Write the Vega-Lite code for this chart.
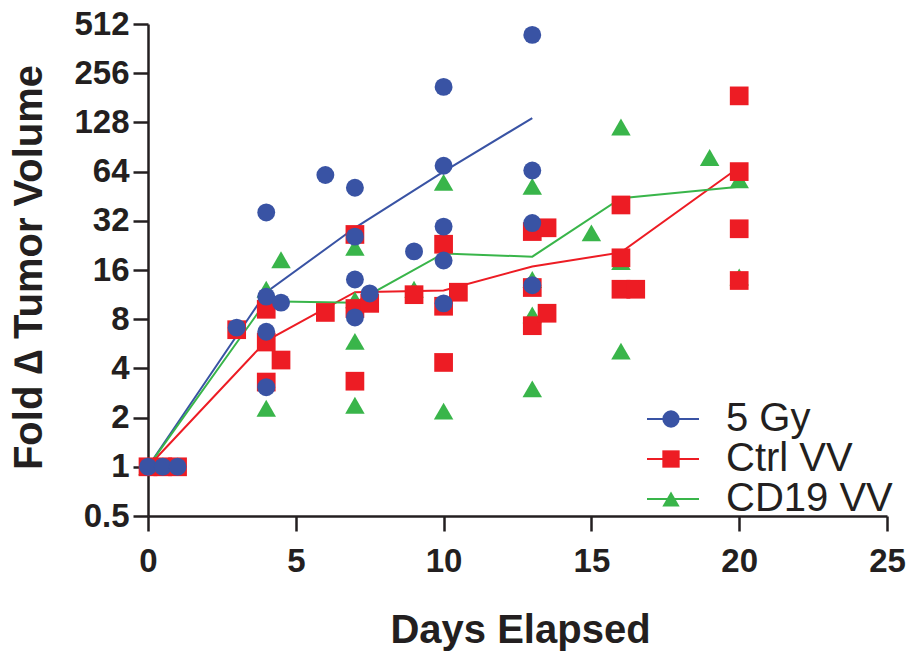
{
  "$schema": "https://vega.github.io/schema/vega-lite/v6.json",
  "width": 739,
  "height": 492,
  "autosize": {"type": "none"},
  "padding": {"left": 148, "top": 24, "right": 23, "bottom": 137},
  "background": "white",
  "config": {
    "view": {"stroke": null},
    "axis": {
      "labelFont": "Liberation Sans", "titleFont": "Liberation Sans",
      "labelFontWeight": "bold", "titleFontWeight": "bold",
      "labelColor": "#231F20", "titleColor": "#231F20",
      "domainColor": "#231F20", "tickColor": "#231F20",
      "domainWidth": 2.5, "tickWidth": 2.5, "tickSize": 15,
      "grid": false, "labelFontSize": 33, "titleFontSize": 40, "labelFlush": false
    }
  },
  "resolve": {"legend": {"color": "independent", "shape": "independent"}},
  "datasets": {
    "means": [
      {"group": "5 Gy", "day": 0, "fold": 1},
      {"group": "5 Gy", "day": 4, "fold": 11.7},
      {"group": "5 Gy", "day": 7, "fold": 29},
      {"group": "5 Gy", "day": 10, "fold": 64},
      {"group": "5 Gy", "day": 13, "fold": 136},
      {"group": "Ctrl VV", "day": 0, "fold": 1},
      {"group": "Ctrl VV", "day": 4, "fold": 5.9},
      {"group": "Ctrl VV", "day": 7, "fold": 11.7},
      {"group": "Ctrl VV", "day": 10, "fold": 12},
      {"group": "Ctrl VV", "day": 13, "fold": 16.8},
      {"group": "Ctrl VV", "day": 16, "fold": 20.5},
      {"group": "Ctrl VV", "day": 20, "fold": 68},
      {"group": "CD19 VV", "day": 0, "fold": 1},
      {"group": "CD19 VV", "day": 4, "fold": 10.3},
      {"group": "CD19 VV", "day": 7, "fold": 10.1},
      {"group": "CD19 VV", "day": 10, "fold": 20.2},
      {"group": "CD19 VV", "day": 13, "fold": 19.3},
      {"group": "CD19 VV", "day": 16, "fold": 44},
      {"group": "CD19 VV", "day": 20, "fold": 51.7}
    ],
    "points": [
      {"group": "CD19 VV", "day": 0, "fold": 1},
      {"group": "CD19 VV", "day": 4, "fold": 2.28},
      {"group": "CD19 VV", "day": 4, "fold": 12.2},
      {"group": "CD19 VV", "day": 4.5, "fold": 18.5},
      {"group": "CD19 VV", "day": 7, "fold": 22},
      {"group": "CD19 VV", "day": 7, "fold": 10.5},
      {"group": "CD19 VV", "day": 7, "fold": 5.85},
      {"group": "CD19 VV", "day": 7, "fold": 2.38},
      {"group": "CD19 VV", "day": 9, "fold": 12.2},
      {"group": "CD19 VV", "day": 10, "fold": 55},
      {"group": "CD19 VV", "day": 10, "fold": 2.19},
      {"group": "CD19 VV", "day": 13, "fold": 52},
      {"group": "CD19 VV", "day": 13, "fold": 14},
      {"group": "CD19 VV", "day": 13, "fold": 8.5},
      {"group": "CD19 VV", "day": 13, "fold": 3.0},
      {"group": "CD19 VV", "day": 15, "fold": 27},
      {"group": "CD19 VV", "day": 16, "fold": 120},
      {"group": "CD19 VV", "day": 16, "fold": 18},
      {"group": "CD19 VV", "day": 16, "fold": 5.1},
      {"group": "CD19 VV", "day": 19, "fold": 78},
      {"group": "CD19 VV", "day": 20, "fold": 57},
      {"group": "CD19 VV", "day": 20, "fold": 14.5},
      {"group": "Ctrl VV", "day": 0, "fold": 1},
      {"group": "Ctrl VV", "day": 0.5, "fold": 1},
      {"group": "Ctrl VV", "day": 1, "fold": 1},
      {"group": "Ctrl VV", "day": 3, "fold": 6.9},
      {"group": "Ctrl VV", "day": 4, "fold": 9.2},
      {"group": "Ctrl VV", "day": 4, "fold": 5.8},
      {"group": "Ctrl VV", "day": 4, "fold": 3.3},
      {"group": "Ctrl VV", "day": 4.5, "fold": 4.5},
      {"group": "Ctrl VV", "day": 6, "fold": 8.8},
      {"group": "Ctrl VV", "day": 7, "fold": 26.4},
      {"group": "Ctrl VV", "day": 7, "fold": 9.3},
      {"group": "Ctrl VV", "day": 7, "fold": 3.34},
      {"group": "Ctrl VV", "day": 7.5, "fold": 10},
      {"group": "Ctrl VV", "day": 9, "fold": 11.3},
      {"group": "Ctrl VV", "day": 10, "fold": 23},
      {"group": "Ctrl VV", "day": 10, "fold": 9.6},
      {"group": "Ctrl VV", "day": 10, "fold": 4.35},
      {"group": "Ctrl VV", "day": 10.5, "fold": 11.7},
      {"group": "Ctrl VV", "day": 13, "fold": 27.5},
      {"group": "Ctrl VV", "day": 13.5, "fold": 29},
      {"group": "Ctrl VV", "day": 13, "fold": 12.5},
      {"group": "Ctrl VV", "day": 13, "fold": 7.3},
      {"group": "Ctrl VV", "day": 13.5, "fold": 8.7},
      {"group": "Ctrl VV", "day": 16, "fold": 40},
      {"group": "Ctrl VV", "day": 16, "fold": 19},
      {"group": "Ctrl VV", "day": 16, "fold": 12.2},
      {"group": "Ctrl VV", "day": 16.5, "fold": 12.2},
      {"group": "Ctrl VV", "day": 20, "fold": 186},
      {"group": "Ctrl VV", "day": 20, "fold": 64},
      {"group": "Ctrl VV", "day": 20, "fold": 28.6},
      {"group": "Ctrl VV", "day": 20, "fold": 13.8},
      {"group": "5 Gy", "day": 0, "fold": 1},
      {"group": "5 Gy", "day": 0.5, "fold": 1},
      {"group": "5 Gy", "day": 1, "fold": 1},
      {"group": "5 Gy", "day": 3, "fold": 7.1},
      {"group": "5 Gy", "day": 4, "fold": 36},
      {"group": "5 Gy", "day": 4, "fold": 11},
      {"group": "5 Gy", "day": 4, "fold": 6.7},
      {"group": "5 Gy", "day": 4, "fold": 3.07},
      {"group": "5 Gy", "day": 4.5, "fold": 10.1},
      {"group": "5 Gy", "day": 6, "fold": 61},
      {"group": "5 Gy", "day": 7, "fold": 51},
      {"group": "5 Gy", "day": 7, "fold": 25.6},
      {"group": "5 Gy", "day": 7, "fold": 14},
      {"group": "5 Gy", "day": 7, "fold": 8.2},
      {"group": "5 Gy", "day": 7.5, "fold": 11.5},
      {"group": "5 Gy", "day": 9, "fold": 20.8},
      {"group": "5 Gy", "day": 10, "fold": 211},
      {"group": "5 Gy", "day": 10, "fold": 69.5},
      {"group": "5 Gy", "day": 10, "fold": 29.5},
      {"group": "5 Gy", "day": 10, "fold": 18.3},
      {"group": "5 Gy", "day": 10, "fold": 10},
      {"group": "5 Gy", "day": 13, "fold": 439},
      {"group": "5 Gy", "day": 13, "fold": 65},
      {"group": "5 Gy", "day": 13, "fold": 31},
      {"group": "5 Gy", "day": 13, "fold": 12.9}
    ]
  },
  "layer": [
    {
      "data": {"name": "means"},
      "mark": {"type": "line", "strokeWidth": 2},
      "encoding": {
        "x": {"field": "day", "type": "quantitative", "scale": {"domain": [0, 25], "nice": false},
              "axis": {"values": [0, 5, 10, 15, 20, 25], "labelPadding": 14, "title": "Days Elapsed", "titleBaseline": "alphabetic", "titleX": 372, "titleY": 126}},
        "y": {"field": "fold", "type": "quantitative", "scale": {"type": "log", "base": 2, "domain": [0.5, 512], "nice": false},
              "axis": {"values": [0.5, 1, 2, 4, 8, 16, 32, 64, 128, 256, 512], "format": "~g", "labelPadding": 4, "title": "Fold ∆ Tumor Volume", "titleBaseline": "alphabetic", "titleX": -107, "titleY": 243}},
        "color": {"field": "group", "type": "nominal",
                  "scale": {"domain": ["5 Gy", "Ctrl VV", "CD19 VV"], "range": ["#3953A4", "#ED1C24", "#39B54A"]},
                  "legend": {"title": null, "orient": "none", "legendX": 505, "legendY": 375, "padding": 0,
                             "labelFont": "Liberation Sans", "labelFontSize": 40, "labelExpr": "' '", "labelOffset": 20,
                             "rowPadding": -5, "symbolType": "M-2.6,0H2.6", "symbolSize": 400, "symbolStrokeWidth": 2, "labelLimit": 400, "labelBaseline": "middle"}}
      }
    },
    {
      "data": {"name": "points"},
      "mark": {"type": "point", "filled": true, "opacity": 1, "strokeWidth": 0},
      "encoding": {
        "x": {"field": "day", "type": "quantitative"},
        "y": {"field": "fold", "type": "quantitative"},
        "color": {"field": "group", "type": "nominal",
                  "legend": {"title": null, "orient": "none", "legendX": 503, "legendY": 375, "padding": 0,
                             "labelFont": "Liberation Sans", "labelFontSize": 40, "labelColor": "#231F20", "labelOffset": 35,
                             "rowPadding": -5, "symbolSize": 300, "symbolStrokeWidth": 0, "symbolOpacity": 1, "labelLimit": 400, "labelBaseline": "middle"}},
        "shape": {"field": "group", "type": "nominal",
                  "scale": {"domain": ["5 Gy", "Ctrl VV", "CD19 VV"], "range": ["circle", "square", "triangle-up"]},
                  "legend": {"title": null, "orient": "none", "legendX": 503, "legendY": 375, "padding": 0,
                             "labelFont": "Liberation Sans", "labelFontSize": 40, "labelColor": "#231F20", "labelOffset": 35,
                             "rowPadding": -5, "symbolSize": 300, "symbolStrokeWidth": 0, "symbolOpacity": 1, "labelLimit": 400, "labelBaseline": "middle"}},
        "size": {"field": "group", "type": "nominal",
                 "scale": {"domain": ["5 Gy", "Ctrl VV", "CD19 VV"], "range": [320, 380, 400]},
                 "legend": null}
      }
    }
  ]
}
